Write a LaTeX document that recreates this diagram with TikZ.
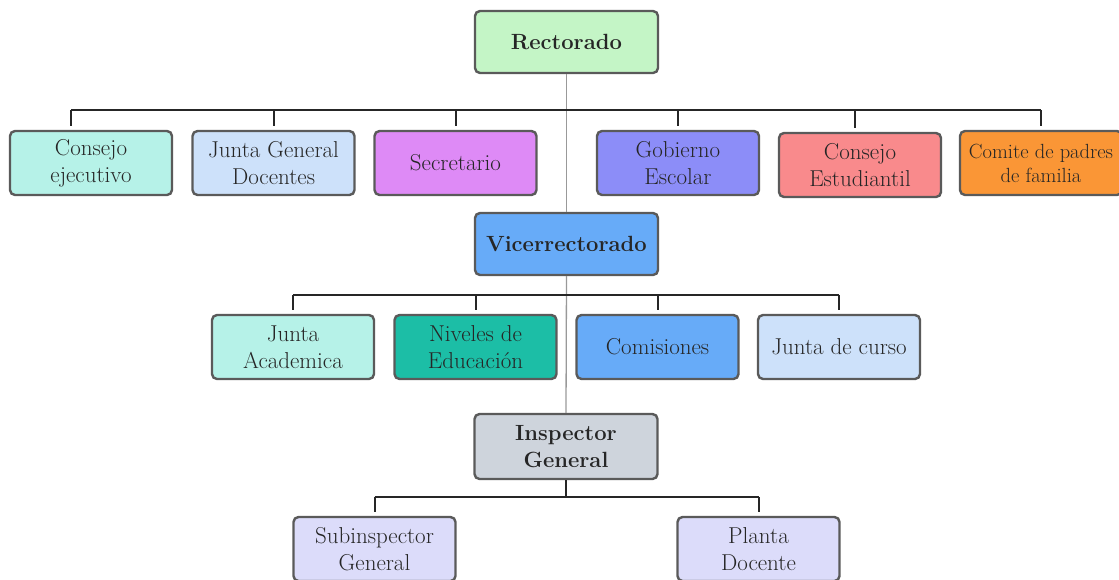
\documentclass[tikz,border=0pt]{standalone}
\usepackage{fontspec}
\usepackage{tikz}
\definecolor{edge}{HTML}{5A5A5A}
\definecolor{ink}{HTML}{262626}
\definecolor{cRect}{HTML}{C4F5C6}
\definecolor{cMint}{HTML}{B6F2E8}
\definecolor{cPale}{HTML}{CDE1FA}
\definecolor{cViolet}{HTML}{DE8AF6}
\definecolor{cIndigo}{HTML}{8C8DF8}
\definecolor{cRose}{HTML}{F98A8C}
\definecolor{cOrange}{HTML}{FA9636}
\definecolor{cSky}{HTML}{67ABF8}
\definecolor{cTeal}{HTML}{1CBEA6}
\definecolor{cSlate}{HTML}{CED4DC}
\definecolor{cLilac}{HTML}{DCDCFA}
\newcommand{\Hd}[1]{\textbf{#1}}

\tikzset{
  unit/.style={draw=edge, line width=2.4pt, rounded corners=5pt, minimum width=162pt,
    minimum height=64pt, align=center, inner sep=2pt, text=ink,
    font=\fontsize{23}{27}\selectfont},
  head/.style={unit, minimum width=183pt, minimum height=62pt,
    font=\fontsize{22}{27}\selectfont},
  bus/.style={black!85, line width=1.3pt},
  drop/.style={black!85, line width=2pt, shorten >=4pt},
  spine/.style={black!40, line width=1.3pt}
}

\begin{document}
\begin{tikzpicture}[x=1pt,y=-1pt]
  \useasboundingbox (0,0) rectangle (1119,579);

  \newcommand\RowA{163};
  \newcommand\RowB{347};
  \newcommand\RowC{549};

  %% top
  \node[head, fill=cRect] (rect) at (566.5, 42) {\Hd{Rectorado}};

  \node[unit, fill=cMint]   (cej)  at (91, \RowA)    {Consejo\\ejecutivo};
  \node[unit, fill=cPale]   (jgd)  at (273.5, \RowA) {Junta General\\Docentes};
  \node[unit, fill=cViolet] (sec)  at (455.5, \RowA) {Secretario};
  \node[unit, fill=cIndigo] (gob)  at (678, \RowA)   {Gobierno\\Escolar};
  \node[unit, fill=cRose]   (cest) at (860, 2+\RowA) {Consejo\\Estudiantil};
  \node[unit, fill=cOrange, font=\fontsize{20.5}{24}\selectfont] (cpf) at (1041, \RowA) {Comite de padres\\de familia};

  %% middle
  \node[head, fill=cSky] (vice) at (566.5, 244) {\Hd{Vicerrectorado}};

  \node[unit, fill=cMint] (jac)  at (293, \RowB)   {Junta\\Academica};
  \node[unit, fill=cTeal] (niv)  at (475.5, \RowB) {Niveles de\\Educación};
  \node[unit, fill=cSky]  (coms) at (657.5, \RowB) {Comisiones};
  \node[unit, fill=cPale] (jcu)  at (839, \RowB)   {Junta de curso};

  %% bottom
  \node[head, fill=cSlate, minimum height=65pt] (insp) at (566, 446.5) {\Hd{Inspector}\\\Hd{General}};

  \node[unit, fill=cLilac] (subi) at (374.5, \RowC) {Subinspector\\General};
  \node[unit, fill=cLilac] (plan) at (758.5, \RowC) {Planta\\Docente};

  \draw[spine] (rect.south) -- (vice.north); % Rectorado -> Vicerrectorado
  \draw[spine] (vice.south) -- (insp.north); % Vicerrectorado -> Inspector

  \coordinate (busA) at (566, 110);
  \coordinate (busB) at (566, 295);
  \coordinate (busC) at (566, 497);

  \draw[bus] ([xshift=-20pt]cej.north |- busA) -- (cpf.north |- busA);
  \draw[drop] ([xshift=-20pt]cej.north |- busA) -- ([xshift=-20pt]cej.north);
  \draw[drop] (jgd.north |- busA) -- (jgd.north);
  \draw[drop] (sec.north |- busA) -- (sec.north);
  \draw[drop] (gob.north |- busA) -- (gob.north);
  \draw[drop] ([xshift=-5pt]cest.north |- busA) -- ([xshift=-5pt]cest.north);
  \draw[drop] (cpf.north |- busA) -- (cpf.north);

  \draw[bus] (jac.north |- busB) -- (jcu.north |- busB);
  \draw[drop] (jac.north |- busB) -- (jac.north);
  \draw[drop] (niv.north |- busB) -- (niv.north);
  \draw[drop] (coms.north |- busB) -- (coms.north);
  \draw[drop] (jcu.north |- busB) -- (jcu.north);

  \draw[bus] (insp.south) -- (busC);
  \draw[bus] (subi.north |- busC) -- (plan.north |- busC);
  \draw[drop] (subi.north |- busC) -- (subi.north);
  \draw[drop] (plan.north |- busC) -- (plan.north);

\end{tikzpicture}
\end{document}
